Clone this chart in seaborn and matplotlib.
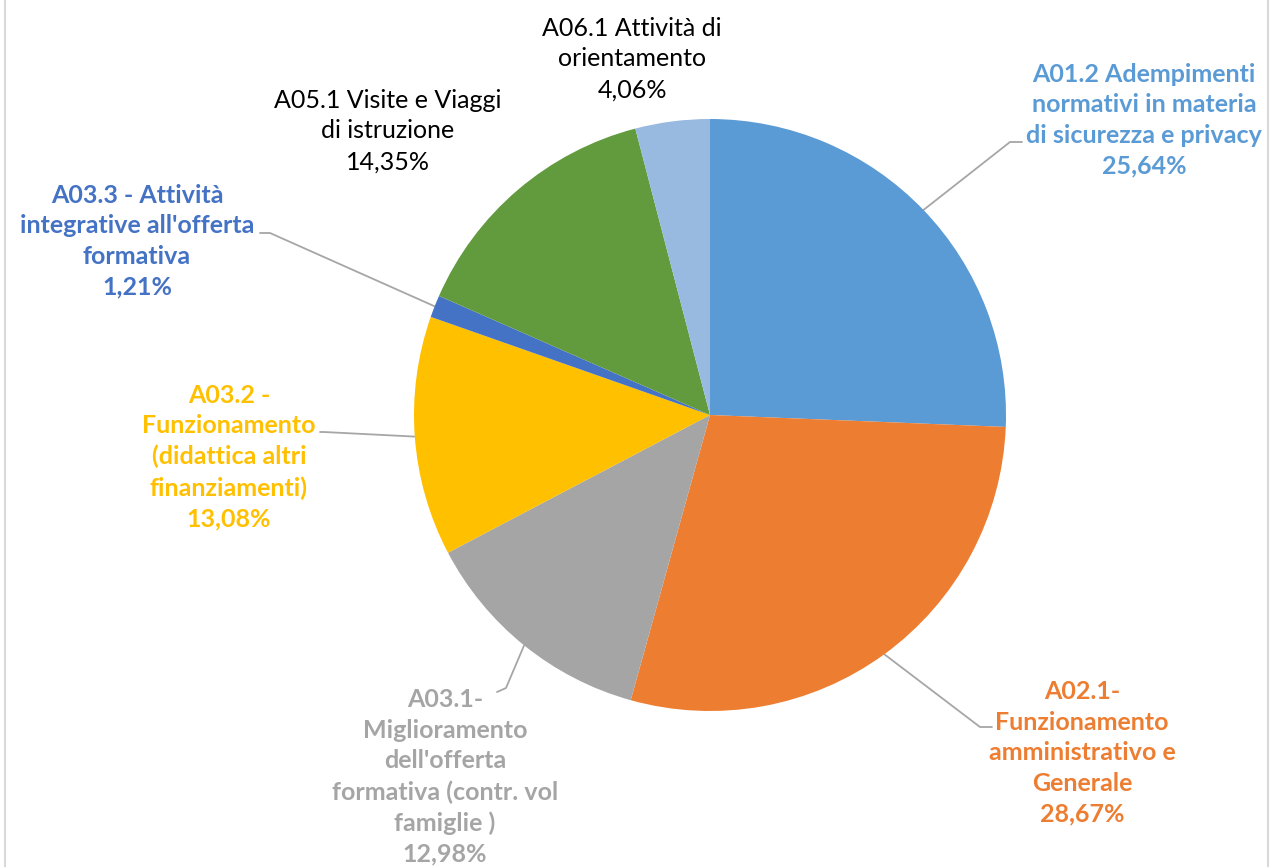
import numpy as np
import matplotlib
matplotlib.use("Agg")
import matplotlib.pyplot as plt
import seaborn as sns
from matplotlib.lines import Line2D

# data
codes = ['A01.2', 'A02.1', 'A03.1', 'A03.2', 'A03.3', 'A05.1', 'A06.1']
labels = ['A01.2 Adempimenti\nnormativi in materia\ndi sicurezza e privacy',
          'A02.1-\nFunzionamento\namministrativo e\nGenerale',
          'A03.1-\nMiglioramento\ndell\'offerta\nformativa (contr. vol\nfamiglie )',
          'A03.2 -\nFunzionamento\n(didattica altri\nfinanziamenti)',
          'A03.3 - Attività\nintegrative all\'offerta\nformativa',
          'A05.1 Visite e Viaggi\ndi istruzione',
          'A06.1 Attività di\norientamento']
perc = [25.64, 28.67, 12.98, 13.08, 1.21, 14.35, 4.06]
colors = ['#5B9BD5', '#ED7D31', '#A5A5A5', '#FFC000', '#4472C4', '#629A3E', '#98B9E0']

sns.set_theme(style="white")
plt.rcParams['font.family'] = ['Lato', 'DejaVu Sans']

W, H = 1274, 867
fig = plt.figure(figsize=(W / 100, H / 100), dpi=100)
ax = fig.add_axes([0, 0, 1, 1])

cx, cy, r = 710, H - 415, 296
wedges, _ = ax.pie(perc, colors=colors, startangle=90, counterclock=False,
                   center=(cx, cy), radius=r, wedgeprops=dict(linewidth=0))
ax.set_xlim(0, W)
ax.set_ylim(0, H)
ax.set_aspect('auto')
ax.axis('off')

# label placement (pixel coords from top-left): center x, center y, bold, leader elbow
lab_pos = {
    'A01.2': (1144, 120, True, [(1010, 142), (1022, 142)]),
    'A02.1': (1082, 753, True, [(980, 727), (992, 727)]),
    'A03.1': (445, 777, True, [(506, 688), (497, 692)]),
    'A03.2': (229, 457, True, [(324, 432), (320, 432)]),
    'A03.3': (137, 241, True, [(270, 233), (260, 233)]),
    'A05.1': (388, 131, False, None),
    'A06.1': (632, 59, False, None),
}

for w, code, lab, p, col in zip(wedges, codes, labels, perc, colors):
    x, y, bold, elbow = lab_pos[code]
    txt = lab + '\n' + f'{p:.2f}'.replace('.', ',') + '%'
    ax.text(x, H - y, txt, ha='center', va='center', fontsize=18,
            fontweight='bold' if bold else 'normal',
            color=col if bold else 'black', linespacing=1.4)
    if elbow:
        ang = np.deg2rad((w.theta1 + w.theta2) / 2)
        xs = [cx + r * np.cos(ang)] + [e[0] for e in elbow]
        ys = [cy + r * np.sin(ang)] + [H - e[1] for e in elbow]
        ax.plot(xs, ys, color='#A6A6A6', lw=1.3, zorder=0)

# chart frame edges
for fx in (5 / W, 1268 / W):
    fig.add_artist(Line2D([fx, fx], [0, 1], color='#D9D9D9', lw=1.5))

fig.savefig('out.png', dpi=100, facecolor='white')
